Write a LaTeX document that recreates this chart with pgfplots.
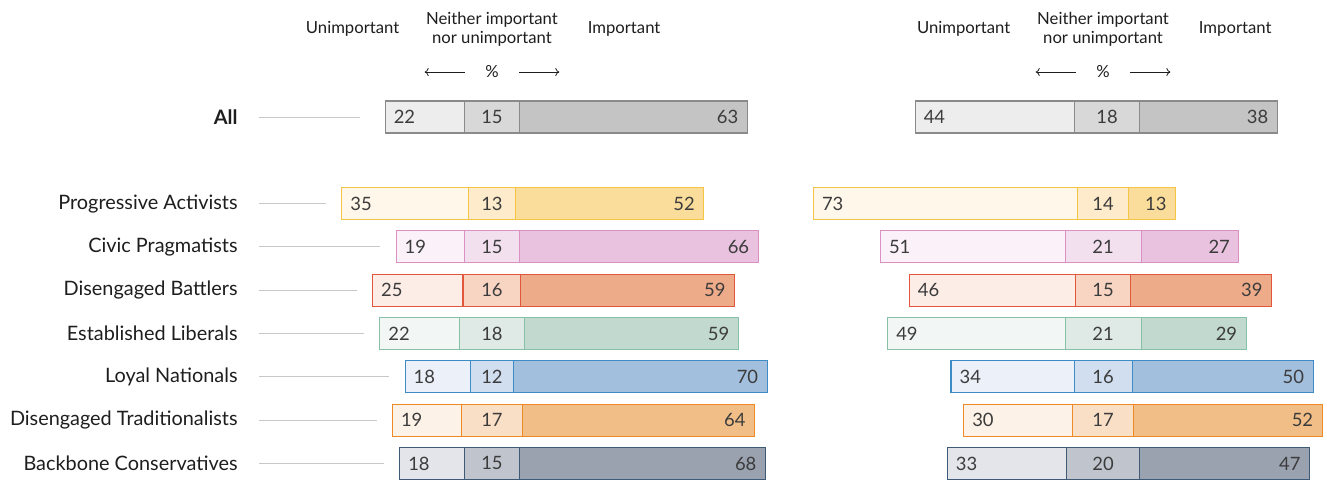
\documentclass[border=0pt]{standalone}
\usepackage{pgfplots}
\usepackage{pgfplotstable}
\pgfplotsset{compat=1.18}
\usetikzlibrary{arrows.meta}
\usepackage{fontspec}
\setmainfont{Lato}

% segment colours per row (row 0 = All, rows 2..8 = segments): light, mid, dark, border
\definecolor{c0lt}{HTML}{EDEDED}\definecolor{c0md}{HTML}{D8D8D8}\definecolor{c0dk}{HTML}{C4C4C4}\definecolor{c0bd}{HTML}{8A8A8A}
\definecolor{c2lt}{HTML}{FFF7EA}\definecolor{c2md}{HTML}{FDEBCB}\definecolor{c2dk}{HTML}{FBDD9B}\definecolor{c2bd}{HTML}{F5C445}
\definecolor{c3lt}{HTML}{FAF2F8}\definecolor{c3md}{HTML}{F3E0EF}\definecolor{c3dk}{HTML}{E9C2DF}\definecolor{c3bd}{HTML}{DA90C3}
\definecolor{c4lt}{HTML}{FCEDE6}\definecolor{c4md}{HTML}{F8D4C3}\definecolor{c4dk}{HTML}{EEAB89}\definecolor{c4bd}{HTML}{E0573B}
\definecolor{c5lt}{HTML}{F2F7F5}\definecolor{c5md}{HTML}{DFEAE6}\definecolor{c5dk}{HTML}{C1D9CF}\definecolor{c5bd}{HTML}{86C1A7}
\definecolor{c6lt}{HTML}{ECF1F9}\definecolor{c6md}{HTML}{D0DEEF}\definecolor{c6dk}{HTML}{A3BFDE}\definecolor{c6bd}{HTML}{3D8CC6}
\definecolor{c7lt}{HTML}{FDF2E7}\definecolor{c7md}{HTML}{F9DFC5}\definecolor{c7dk}{HTML}{F1BE88}\definecolor{c7bd}{HTML}{EE8A24}
\definecolor{c8lt}{HTML}{E3E5EA}\definecolor{c8md}{HTML}{C0C4CD}\definecolor{c8dk}{HTML}{9AA1AF}\definecolor{c8bd}{HTML}{3F5A76}
\definecolor{numgray}{HTML}{3C3C3C}
\definecolor{txtgray}{HTML}{1E1E1E}
\definecolor{leadgray}{HTML}{C8C8C8}

\tikzset{
  num/.style={font=\fontsize{13.8}{16}\selectfont, text=numgray, inner sep=0pt},
  grp/.style={font=\fontsize{14.9}{17}\selectfont, text=txtgray, anchor=east, inner sep=0pt},
  hdr/.style={font=\fontsize{12.5}{14.4}\selectfont, text=txtgray, align=center, inner sep=0pt},
  arr/.style={-{To[length=3pt,width=6pt]}, line width=0.6pt, draw=txtgray},
}
\pgfplotsset{
  seg/.style={line width=0.8pt, line join=miter},
  leader/.style={draw=leadgray, line width=0.75pt, mark=none},
}

% y = row position, U = unimportant, N = neither, I = important (%)
\pgfplotstableread{
y U N I
0 22 15 63
2 35 13 52
3 19 15 66
4 25 16 59
5 22 18 59
6 18 12 70
7 19 17 64
8 18 15 68
}\leftdata

\pgfplotstableread{
y U N I
0 44 18 38
2 73 14 13
3 51 21 27
4 46 15 39
5 49 21 29
6 34 16 50
7 30 17 52
8 33 20 47
}\rightdata

% one diverging bar: #1 table, #2 row, #3 x of the neutral centre, #4 draw leader line (1/0)
\newcommand\barrow[4]{%
  \pgfplotstablegetelem{#2}{y}\of#1\edef\yy{\pgfplotsretval}%
  \pgfplotstablegetelem{#2}{U}\of#1\edef\uu{\pgfplotsretval}%
  \pgfplotstablegetelem{#2}{N}\of#1\edef\nn{\pgfplotsretval}%
  \pgfplotstablegetelem{#2}{I}\of#1\edef\ii{\pgfplotsretval}%
  \pgfmathsetmacro\xb{#3-0.5*\nn}%
  \pgfmathsetmacro\xa{\xb-\uu}%
  \pgfmathsetmacro\xc{#3+0.5*\nn}%
  \pgfmathsetmacro\xd{\xc+\ii}%
  \pgfmathsetmacro\xm{#3}%
  \pgfmathsetmacro\ylo{\yy-0.37}%
  \pgfmathsetmacro\yhi{\yy+0.37}%
  \pgfmathsetmacro\xl{\xa+2.3}%
  \pgfmathsetmacro\xr{\xd-2.4}%
  \pgfmathtruncatemacro\cc{\yy}%
  \pgfmathsetmacro\gap{\cc==0 ? 6.9 : 4.4}%
  \pgfmathsetmacro\xe{\xa-\gap}%
  \edef\doit{%
    \ifnum#4=1 \noexpand\addplot[leader] coordinates {(-64.4,\yy) (\xe,\yy)};\fi
    \noexpand\addplot[seg, fill=c\cc lt, draw=c\cc bd] coordinates {(\xa,\ylo) (\xb,\ylo) (\xb,\yhi) (\xa,\yhi)} -- cycle;
    \noexpand\addplot[seg, fill=c\cc md, draw=c\cc bd] coordinates {(\xb,\ylo) (\xc,\ylo) (\xc,\yhi) (\xb,\yhi)} -- cycle;
    \noexpand\addplot[seg, fill=c\cc dk, draw=c\cc bd] coordinates {(\xc,\ylo) (\xd,\ylo) (\xd,\yhi) (\xc,\yhi)} -- cycle;
    \noexpand\node[num, anchor=west] at (axis cs:\xl,\yy) {\uu};
    \noexpand\node[num, anchor=center] at (axis cs:\xm,\yy) {\nn};
    \noexpand\node[num, anchor=east] at (axis cs:\xr,\yy) {\ii};
  }\doit
}

\begin{document}
\begin{tikzpicture}
\begin{axis}[
  x=2.715pt, y=32.475pt,
  xmin=-135.9, xmax=230.66,
  ymin=-2.702, ymax=8.360,
  y dir=reverse,
  hide axis, clip=false,
]
  \pgfplotsinvokeforeach{0,...,7}{\barrow{\leftdata}{#1}{0}{1}}
  \barrow{\rightdata}{0}{169.9}{0}
  \pgfplotsinvokeforeach{1,...,7}{\barrow{\rightdata}{#1}{168.8}{0}}

  % row names
  \node[grp] at (axis cs:-70.2,0) {\textbf{All}};
  \node[grp] at (axis cs:-70.2,2) {Progressive Activists};
  \node[grp] at (axis cs:-70.2,3) {Civic Pragmatists};
  \node[grp] at (axis cs:-70.2,4) {Disengaged Battlers};
  \node[grp] at (axis cs:-70.2,5) {Established Liberals};
  \node[grp] at (axis cs:-70.2,6) {Loyal Nationals};
  \node[grp] at (axis cs:-70.2,7) {Disengaged Traditionalists};
  \node[grp] at (axis cs:-70.2,8) {Backbone Conservatives};

  % column headings for both panels
  \pgfplotsinvokeforeach{0,168.8}{
    \node[hdr] at (axis cs:#1-38.5,-2.03) {Unimportant};
    \node[hdr] at (axis cs:#1,-2.03) {Neither important\\nor unimportant};
    \node[hdr] at (axis cs:#1+36.5,-2.03) {Important};
    \node[hdr] at (axis cs:#1,-1.039) {\%};
    \draw[arr] (axis cs:#1-7.5,-1.039) -- (axis cs:#1-18.6,-1.039);
    \draw[arr] (axis cs:#1+7.5,-1.039) -- (axis cs:#1+18.6,-1.039);
  }
\end{axis}
% the page is exactly the axis area
\pgfresetboundingbox
\path (current axis.south west) rectangle (current axis.north east);
\end{tikzpicture}
\end{document}
